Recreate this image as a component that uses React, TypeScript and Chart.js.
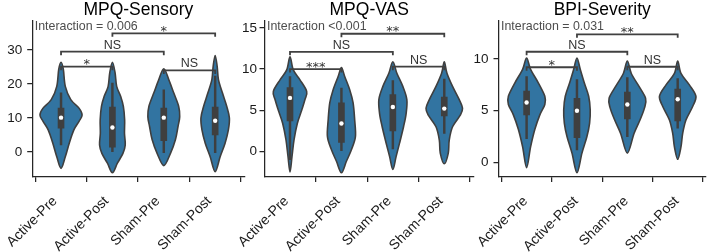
import React, { useEffect, useRef } from "react";
import { Chart, registerables } from "chart.js";

Chart.register(...registerables);

// ---------- data ----------
const categories = ["Active-Pre", "Active-Post", "Sham-Pre", "Sham-Post"];
const titles = ["MPQ-Sensory", "MPQ-VAS", "BPI-Severity"];
const interactionLabels = ["Interaction = 0.006", "Interaction <0.001", "Interaction = 0.031"];

const yTicksSensory = [0, 10, 20, 30];
const yTicksVas = [0, 5, 10, 15];
const yTicksBpi = [0, 5, 10];
const yRangeSensory = [-7.35, 38.7];
const yRangeVas = [-3.11, 15.92];
const yRangeBpi = [-1.41, 13.73];

// violin outlines: levels (value) and half widths (in category units)
const sensoryLevels = [
  [26.4, 24.3, 19.3, 15.4, 12.9, 10.9, 9.0, 6.5, 2.6, -1.4, -4.8],
  [26.4, 23.3, 19.3, 16.4, 13.4, 9.5, 5.5, 2.1, -0.4, -3.3, -6.1],
  [24.5, 21.3, 17.4, 13.4, 10.4, 7.5, 3.6, -0.4, -4.0],
  [28.4, 25.2, 21.3, 17.4, 13.4, 10.0, 6.5, 2.6, -1.4, -5.8],
];
const sensoryWidths = [
  [0, 0.045, 0.083, 0.19, 0.35, 0.41, 0.35, 0.25, 0.16, 0.083, 0],
  [0, 0.052, 0.083, 0.16, 0.213, 0.238, 0.235, 0.25, 0.205, 0.097, 0],
  [0, 0.097, 0.193, 0.29, 0.31, 0.277, 0.226, 0.13, 0],
  [0, 0.039, 0.064, 0.141, 0.226, 0.277, 0.257, 0.193, 0.097, 0],
];
const vasLevels = [
  [11.5, 9.9, 8.7, 7.3, 6.3, 5.0, 3.4, 1.4, -0.6, -2.5],
  [10.2, 9.1, 7.5, 5.9, 3.8, 1.8, 0.2, -1.2, -2.6],
  [10.9, 9.5, 7.9, 6.3, 4.6, 3.0, 1.0, -0.6, -2.2],
  [10.9, 9.5, 7.9, 6.3, 5.25, 4.4, 3.0, 1.4, -0.2, -1.5],
];
const vasWidths = [
  [0, 0.064, 0.194, 0.324, 0.291, 0.227, 0.142, 0.078, 0.039, 0],
  [0, 0.064, 0.161, 0.227, 0.258, 0.272, 0.194, 0.097, 0],
  [0, 0.078, 0.194, 0.272, 0.258, 0.208, 0.13, 0.064, 0],
  [0, 0.052, 0.161, 0.291, 0.355, 0.311, 0.161, 0.097, 0.078, 0],
];
const bpiLevels = [
  [10.1, 9.0, 7.7, 6.4, 5.6, 4.6, 3.2, 1.5, -0.5],
  [10.1, 9.0, 7.7, 6.4, 5.1, 3.8, 2.5, 0.9, -1.0],
  [9.8, 8.6, 7.35, 6.2, 5.3, 4.1, 2.8, 0.9],
  [9.8, 8.6, 7.5, 6.4, 5.4, 4.1, 2.8, 1.5, 0.3],
];
const bpiWidths = [
  [0, 0.079, 0.232, 0.362, 0.362, 0.263, 0.164, 0.079, 0],
  [0, 0.065, 0.145, 0.232, 0.263, 0.251, 0.198, 0.099, 0],
  [0, 0.079, 0.232, 0.362, 0.343, 0.251, 0.133, 0],
  [0, 0.065, 0.232, 0.362, 0.297, 0.164, 0.099, 0.065, 0],
];

// inner box statistics
const sensoryQ1 = [7.0, 1.4, 3.3, 5.0];
const sensoryMedian = [10.1, 7.2, 10.1, 9.2];
const sensoryQ3 = [12.9, 13.2, 12.9, 13.2];
const sensoryWhiskerLow = [2.1, 0.1, -0.2, -0.2];
const sensoryWhiskerHigh = [17.4, 20.3, 18.3, 22.3];

const vasQ1 = [3.7, 1.1, 2.5, 4.3];
const vasMedian = [6.5, 3.4, 5.4, 5.2];
const vasQ3 = [7.75, 5.9, 6.9, 6.6];
const vasWhiskerLow = [-1.0, 0.0, 0.3, 2.2];
const vasWhiskerHigh = [9.1, 7.7, 8.6, 8.8];

const bpiQ1 = [4.6, 2.4, 4.2, 4.0];
const bpiMedian = [5.8, 5.0, 5.6, 6.1];
const bpiQ3 = [6.9, 6.2, 6.8, 7.1];
const bpiWhiskerLow = [2.3, 1.2, 2.5, 3.3];
const bpiWhiskerHigh = [8.3, 8.0, 8.2, 8.1];

// significance brackets: [from category, to category, value, label]
const sensoryBrackets: [number, number, number, string][] = [
  [1, 3, 34.9, "*"], [0, 2, 29.5, "NS"], [0, 1, 25.1, "*"], [2, 3, 24.0, "NS"],
];
const vasBrackets: [number, number, number, string][] = [
  [1, 3, 14.3, "**"], [0, 2, 12.1, "NS"], [0, 1, 10.0, "***"], [2, 3, 10.3, "NS"],
];
const bpiBrackets: [number, number, number, string][] = [
  [1, 3, 12.38, "**"], [0, 2, 10.7, "NS"], [0, 1, 9.2, "*"], [2, 3, 9.25, "NS"],
];

// ---------- layout / style ----------
const FONT = "'Liberation Sans', Arial, Helvetica, sans-serif";
const VIOLIN_FILL = "#3274a1";
const DARK = "#3f3f3f";
const AXIS = "#262626";

const layouts = [
  { padLeft: 1, padRight: 465.5, xMin: -0.561, xMax: 3.571, labelOffset: -6, yPad: 5 },
  { padLeft: 234.5, padRight: 236, xMin: -0.496, xMax: 3.578, labelOffset: -3.5, yPad: 2.5 },
  { padLeft: 468.5, padRight: 3.3, xMin: -0.558, xMax: 3.562, labelOffset: -1, yPad: 5 },
];

const panels = [
  {
    title: titles[0], interaction: interactionLabels[0], yTicks: yTicksSensory, yRange: yRangeSensory,
    levels: sensoryLevels, widths: sensoryWidths, q1: sensoryQ1, median: sensoryMedian, q3: sensoryQ3,
    wlo: sensoryWhiskerLow, whi: sensoryWhiskerHigh, brackets: sensoryBrackets,
  },
  {
    title: titles[1], interaction: interactionLabels[1], yTicks: yTicksVas, yRange: yRangeVas,
    levels: vasLevels, widths: vasWidths, q1: vasQ1, median: vasMedian, q3: vasQ3,
    wlo: vasWhiskerLow, whi: vasWhiskerHigh, brackets: vasBrackets,
  },
  {
    title: titles[2], interaction: interactionLabels[2], yTicks: yTicksBpi, yRange: yRangeBpi,
    levels: bpiLevels, widths: bpiWidths, q1: bpiQ1, median: bpiMedian, q3: bpiQ3,
    wlo: bpiWhiskerLow, whi: bpiWhiskerHigh, brackets: bpiBrackets,
  },
];

type Pt = { x: number; y: number };

function closedSpline(ctx: CanvasRenderingContext2D, pts: Pt[]) {
  const n = pts.length;
  ctx.moveTo(pts[0].x, pts[0].y);
  for (let i = 0; i < n; i++) {
    const p0 = pts[(i - 1 + n) % n];
    const p1 = pts[i];
    const p2 = pts[(i + 1) % n];
    const p3 = pts[(i + 2) % n];
    ctx.bezierCurveTo(
      p1.x + (p2.x - p0.x) / 6, p1.y + (p2.y - p0.y) / 6,
      p2.x - (p3.x - p1.x) / 6, p2.y - (p3.y - p1.y) / 6,
      p2.x, p2.y
    );
  }
  ctx.closePath();
}

function makePlugins(p: (typeof panels)[number]) {
  const violinPlugin = {
    id: "violins",
    beforeDatasetsDraw(chart: any) {
      const ctx: CanvasRenderingContext2D = chart.ctx;
      const xs = chart.scales.x;
      const ys = chart.scales.y;
      p.levels.forEach((lv, ci) => {
        const w = p.widths[ci];
        const right: Pt[] = lv.map((v, k) => ({ x: xs.getPixelForValue(ci + w[k]), y: ys.getPixelForValue(v) }));
        const left: Pt[] = [];
        for (let k = lv.length - 2; k >= 1; k--) {
          left.push({ x: xs.getPixelForValue(ci - w[k]), y: ys.getPixelForValue(lv[k]) });
        }
        ctx.save();
        ctx.beginPath();
        closedSpline(ctx, right.concat(left));
        ctx.fillStyle = VIOLIN_FILL;
        ctx.fill();
        ctx.lineWidth = 1.6;
        ctx.strokeStyle = DARK;
        ctx.lineJoin = "round";
        ctx.stroke();
        ctx.restore();
      });
    },
  };
  const annotPlugin = {
    id: "annotations",
    afterDatasetsDraw(chart: any) {
      const ctx: CanvasRenderingContext2D = chart.ctx;
      const xs = chart.scales.x;
      const ys = chart.scales.y;
      const area = chart.chartArea;
      ctx.save();
      ctx.strokeStyle = "#404040";
      ctx.lineWidth = 1.8;
      ctx.fillStyle = "#333333";
      ctx.textAlign = "center";
      ctx.textBaseline = "alphabetic";
      p.brackets.forEach(([a, b, v, label]) => {
        const x1 = xs.getPixelForValue(a);
        const x2 = xs.getPixelForValue(b);
        const y = ys.getPixelForValue(v);
        ctx.beginPath();
        ctx.moveTo(x1, y + 3.5);
        ctx.lineTo(x1, y);
        ctx.lineTo(x2, y);
        ctx.lineTo(x2, y + 3.5);
        ctx.stroke();
        const cx = (x1 + x2) / 2;
        if (label.startsWith("*")) {
          ctx.font = "13px 'DejaVu Sans', sans-serif";
          ctx.fillText(label, cx, y + 1.4);
        } else {
          ctx.font = `12.5px ${FONT}`;
          ctx.fillText(label, cx, y - 3);
        }
      });
      ctx.font = `12.4px ${FONT}`;
      ctx.fillStyle = "#4d4d4d";
      ctx.textAlign = "left";
      ctx.fillText(p.interaction, area.left + 2.5, 29.5);
      ctx.restore();
    },
  };
  return [violinPlugin, annotPlugin];
}

function buildChart(canvas: HTMLCanvasElement, idx: number) {
  const p = panels[idx];
  const lay = layouts[idx];
  const axisGrid = {
    display: true,
    drawOnChartArea: false,
    drawTicks: true,
    tickLength: 5,
    color: AXIS,
    lineWidth: 1.25,
  };
  const axisBorder = { display: true, color: AXIS, width: 1.25 };
  return new Chart(canvas, {
    type: "scatter",
    data: {
      datasets: [
        {
          type: "scatter",
          data: p.median.map((m, i) => ({ x: i, y: m })),
          pointRadius: 2.2,
          pointBackgroundColor: "#ffffff",
          pointBorderWidth: 0,
          pointBorderColor: "#ffffff",
          order: 0,
        } as any,
        {
          type: "bar",
          data: p.q1.map((a, i) => ({ x: i, y: [a, p.q3[i]] })),
          backgroundColor: DARK,
          barThickness: 6,
          grouped: false,
          borderWidth: 0,
          order: 1,
        } as any,
        {
          type: "bar",
          data: p.wlo.map((a, i) => ({ x: i, y: [a, p.whi[i]] })),
          backgroundColor: DARK,
          barThickness: 1.8,
          grouped: false,
          borderWidth: 0,
          order: 2,
        } as any,
      ],
    },
    options: {
      animation: false,
      responsive: false,
      devicePixelRatio: 1,
      layout: { padding: { left: lay.padLeft, right: lay.padRight, top: 0, bottom: 0 } },
      plugins: {
        legend: { display: false },
        tooltip: { enabled: false },
        title: {
          display: true,
          text: p.title,
          fullSize: false,
          color: "#000000",
          font: { size: 17.5, family: FONT, weight: "normal", lineHeight: 1.166 },
          padding: { top: 0, bottom: 0 },
        },
      },
      scales: {
        x: {
          type: "linear",
          min: lay.xMin,
          max: lay.xMax,
          offset: false,
          afterBuildTicks: (s: any) => {
            s.ticks = categories.map((_, i) => ({ value: i }));
          },
          afterFit: (s: any) => {
            s.height = 75;
          },
          ticks: {
            autoSkip: false,
            minRotation: 45,
            maxRotation: 45,
            padding: 11,
            labelOffset: lay.labelOffset,
            color: "#1a1a1a",
            font: { size: 14, family: FONT },
            callback: (v: any) => categories[Math.round(Number(v))],
          },
          grid: axisGrid,
          border: axisBorder,
        },
        y: {
          type: "linear",
          min: p.yRange[0],
          max: p.yRange[1],
          afterBuildTicks: (s: any) => {
            s.ticks = p.yTicks.map((v) => ({ value: v }));
          },
          afterFit: (s: any) => {
            s.width = 30;
          },
          ticks: {
            padding: lay.yPad,
            color: "#1a1a1a",
            font: { size: 13.5, family: FONT },
            callback: (v: any) => String(v),
          },
          grid: axisGrid,
          border: axisBorder,
        },
      },
    } as any,
    plugins: makePlugins(p),
  });
}

export default function App() {
  const refs = [useRef<HTMLCanvasElement>(null), useRef<HTMLCanvasElement>(null), useRef<HTMLCanvasElement>(null)];
  useEffect(() => {
    const charts = refs.map((r, i) => (r.current ? buildChart(r.current, i) : null));
    return () => {
      charts.forEach((c) => c && c.destroy());
    };
  }, []);
  return (
    <div style={{ position: "fixed", left: 0, top: 0, width: 710, height: 252, background: "#ffffff" }}>
      {refs.map((r, i) => (
        <canvas
          key={i}
          ref={r}
          width={710}
          height={252}
          style={{ position: "absolute", left: 0, top: 0, width: 710, height: 252 }}
        />
      ))}
    </div>
  );
}
